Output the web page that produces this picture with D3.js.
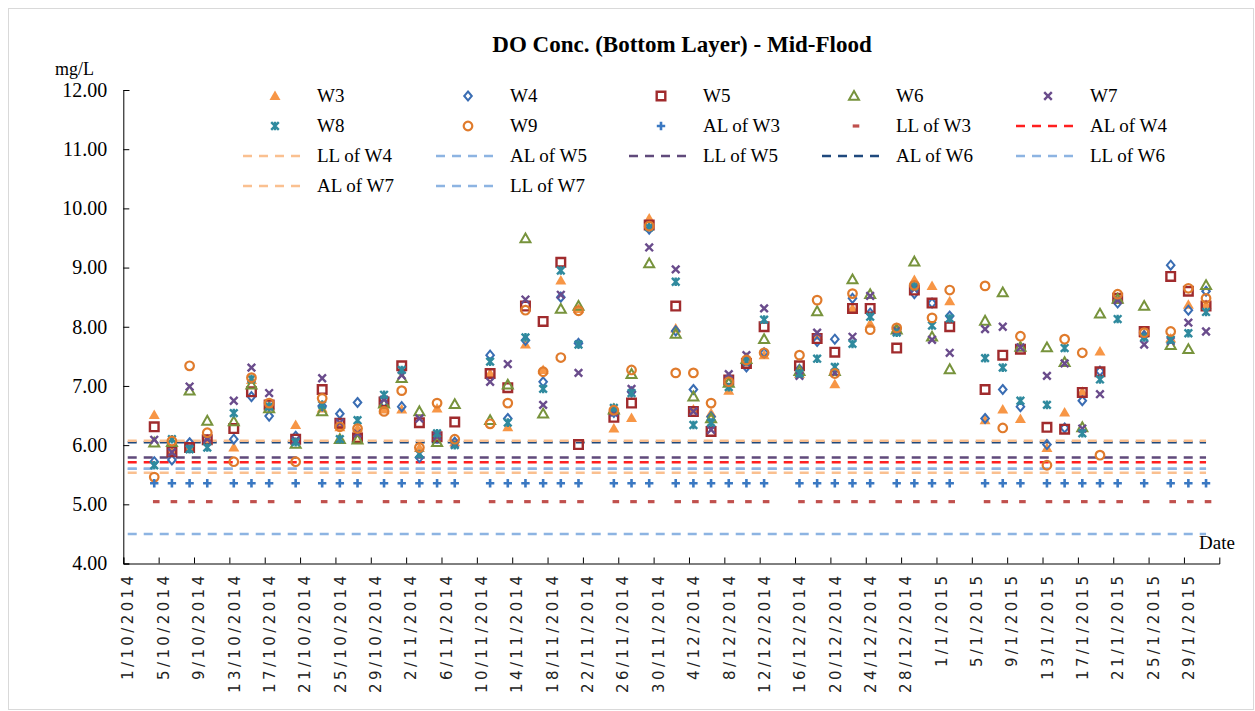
<!DOCTYPE html>
<html><head><meta charset="utf-8">
<script src="https://cdn.jsdelivr.net/npm/d3@7"></script>
<style>
body{margin:0;background:#fff;}
svg{display:block;}
</style></head>
<body>
<svg id="chart" width="1255" height="711"></svg>
<script>
const dates = ["4/10/2014","6/10/2014","8/10/2014","10/10/2014","13/10/2014","15/10/2014","17/10/2014","20/10/2014","23/10/2014","25/10/2014","27/10/2014","30/10/2014","1/11/2014","3/11/2014","5/11/2014","7/11/2014","11/11/2014","13/11/2014","15/11/2014","17/11/2014","19/11/2014","21/11/2014","25/11/2014","27/11/2014","29/11/2014","2/12/2014","4/12/2014","6/12/2014","8/12/2014","10/12/2014","12/12/2014","16/12/2014","18/12/2014","20/12/2014","22/12/2014","24/12/2014","27/12/2014","29/12/2014","31/12/2014","2/1/2015","6/1/2015","8/1/2015","10/1/2015","13/1/2015","15/1/2015","17/1/2015","19/1/2015","21/1/2015","24/1/2015","27/1/2015","29/1/2015","31/1/2015"];

const W3 = [6.51,5.89,5.95,6.10,5.96,7.10,6.68,6.34,6.62,6.30,6.28,6.60,6.60,5.95,6.62,6.05,7.21,6.30,7.70,7.27,8.78,8.30,6.28,6.46,9.83,7.97,6.60,6.54,6.92,7.40,7.52,7.20,7.85,7.03,8.31,8.05,7.98,8.79,8.69,8.43,6.42,6.60,6.44,5.95,6.55,6.90,7.58,8.50,7.88,7.80,8.37,8.37];
const W4 = [5.72,5.75,6.04,6.05,6.10,6.82,6.49,6.15,6.66,6.53,6.72,6.72,6.65,5.79,6.12,6.05,7.52,6.45,7.77,7.07,8.50,7.72,6.55,6.90,9.65,7.93,6.94,6.48,7.05,7.32,7.56,7.28,7.75,7.79,8.48,8.23,7.95,8.56,8.40,8.18,6.45,6.94,6.65,6.01,6.29,6.75,7.25,8.40,7.85,9.04,8.28,8.60];
const W5 = [6.31,5.89,5.96,6.09,6.28,6.90,6.68,6.10,6.94,6.37,6.12,6.73,7.34,6.38,6.14,6.39,7.21,6.97,8.35,8.09,9.09,6.01,6.47,6.71,9.72,8.35,6.57,6.23,7.10,7.38,8.00,7.34,7.80,7.57,8.31,8.31,7.64,8.62,8.40,8.00,6.94,7.52,7.62,6.30,6.27,6.89,7.24,8.48,7.92,8.85,8.60,8.35];
const W6 = [6.04,6.05,6.92,6.41,6.40,7.02,6.62,6.02,6.57,6.10,6.09,6.70,7.13,6.57,6.05,6.69,6.42,7.02,9.49,6.53,8.30,8.35,6.60,7.20,9.07,7.88,6.82,6.45,7.05,7.45,7.79,7.25,8.26,7.25,8.80,8.55,7.95,9.10,7.83,7.28,8.10,8.58,7.66,7.65,7.40,6.30,8.22,8.47,8.35,7.69,7.62,8.70];
const W7 = [6.09,5.88,6.99,6.10,6.75,7.31,6.88,6.08,7.13,6.38,6.20,6.77,7.18,6.45,6.15,6.02,7.07,7.37,8.46,6.68,8.54,7.22,6.55,6.95,9.34,8.97,6.57,6.26,7.20,7.52,8.31,7.17,7.90,7.22,7.83,8.52,7.93,8.65,7.78,7.56,7.96,8.00,7.65,7.17,7.38,6.28,6.86,8.45,7.70,7.76,8.07,7.92];
const W8 = [5.66,6.10,5.93,5.96,6.54,7.12,6.65,6.05,6.68,6.10,6.42,6.85,7.27,5.85,6.20,6.00,7.41,6.38,7.82,6.95,8.95,7.70,6.63,6.88,9.68,8.76,6.34,6.38,6.98,7.42,8.12,7.21,7.46,7.32,7.71,8.17,7.90,8.68,8.02,8.14,7.47,7.31,6.75,6.68,7.64,6.20,7.11,8.13,7.82,7.78,7.89,8.25];
const W9 = [5.46,6.07,7.34,6.21,5.72,7.14,6.71,5.72,6.79,6.31,6.28,6.57,6.92,5.96,6.71,6.10,6.36,6.71,8.28,7.24,7.48,8.27,6.59,7.27,9.70,7.22,7.22,6.71,7.07,7.44,7.56,7.52,8.45,7.21,8.56,7.95,7.98,8.70,8.15,8.62,8.69,6.29,7.84,5.66,7.79,7.56,5.83,8.55,7.90,7.92,8.65,8.48];
const AL_W3 = 5.355;
const LL_W3 = 5.045;

const refNames  = ["AL of W4","LL of W4","AL of W5","LL of W5","AL of W6","LL of W6","AL of W7","LL of W7"];
const refValues = [5.71, 5.535, 5.60, 5.79, 6.05, 5.60, 6.075, 4.50];

const yTicks = [4,5,6,7,8,9,10,11,12];
const axisStart = "1/10/2014", axisEnd = "2/2/2015", lineEnd = "31/1/2015";

const parse = d3.timeParse("%d/%m/%Y");
const fmt = d => `${d.getDate()}/${d.getMonth()+1}/${d.getFullYear()}`;
const mid = d => d3.timeHour.offset(d, 12);

const svg = d3.select("#chart");
const W = 1255, H = 711;
const L = 123.3, R = 1219.3, T = 90, B = 563.5;

// outer border
svg.append("rect").attr("x",8.5).attr("y",8.5).attr("width",W-10).attr("height",H-10)
  .attr("fill","none").attr("stroke","#d9d9d9").attr("stroke-width",1);

const x = d3.scaleTime().domain([parse(axisStart), parse(axisEnd)]).range([L, R]);
const y = d3.scaleLinear().domain([4,12]).range([B, T]);

const serif = "'Liberation Serif','Times New Roman',serif";

// title
svg.append("text").attr("x",682).attr("y",52).attr("text-anchor","middle")
  .attr("font-family",serif).attr("font-weight","bold").attr("font-size",23)
  .text("DO Conc. (Bottom Layer) - Mid-Flood");
svg.append("text").attr("x",55).attr("y",75).attr("font-family",serif).attr("font-size",18).text("mg/L");
svg.append("text").attr("x",1199).attr("y",549).attr("font-family",serif).attr("font-size",19).text("Date");

// reference lines
const refColors = ["#ff1f1f","#fac090","#8db4e2","#604a7b","#1f497d","#8db4e2","#fac090","#8db4e2"];
const lineDates = [parse(axisStart), parse(lineEnd)].map(mid);
const lineGen = d3.line().x(d => x(d[0])).y(d => y(d[1]));
refValues.forEach((v,i) => {
  svg.append("path").attr("d", lineGen(lineDates.map(d => [d, v])))
    .attr("fill","none").attr("stroke",refColors[i]).attr("stroke-width",2.5)
    .attr("stroke-dasharray","9,7");
});

// axes
const yAxis = d3.axisLeft(y).tickValues(yTicks).tickFormat(d3.format(".2f")).tickSize(-6).tickPadding(16);
const gy = svg.append("g").attr("transform",`translate(${L},0)`).call(yAxis);
gy.selectAll("text").attr("font-family",serif).attr("font-size",20).attr("fill","#000");
gy.selectAll("line,path").attr("stroke","#000");

const allDays = d3.timeDay.range(parse(axisStart), parse(axisEnd));
const tickDates = allDays.filter((d,i) => i % 4 === 0);
const xTicks = d3.axisBottom(x).tickValues(tickDates).tickSize(-6).tickFormat("");
const gx = svg.append("g").attr("transform",`translate(0,${B})`).call(xTicks);
gx.selectAll("line,path").attr("stroke","#000");

const xLab = d3.axisBottom(x).tickValues(tickDates.map(mid)).tickSize(0).tickFormat(d => fmt(d3.timeHour.offset(d,-12)));
const gl = svg.append("g").attr("transform",`translate(0,${B})`).call(xLab);
gl.select(".domain").remove();
gl.selectAll("text").attr("font-family","'DejaVu Sans',sans-serif").attr("font-size",15)
  .attr("letter-spacing","3.4px").attr("fill","#222")
  .attr("text-anchor","end").attr("transform","rotate(-90)").attr("dy","0.35em").attr("x",-9).attr("y",0);

// markers
const shapes = {
  triFill: "M0,-5.5L5.5,4L-5.5,4Z",
  diamond: "M0,-4.5L3.8,0L0,4.5L-3.8,0Z",
  square: "M-4.3,-4.3H4.3V4.3H-4.3Z",
  tri: "M0,-5L5,3.8L-5,3.8Z",
  cross: "M-3.8,-3.8L3.8,3.8M3.8,-3.8L-3.8,3.8",
  star: "M-3.8,-3.8L3.8,3.8M3.8,-3.8L-3.8,3.8M0,-4.3V4.3",
  circle: "M4.3,0A4.3,4.3 0 1,1 -4.3,0A4.3,4.3 0 1,1 4.3,0Z",
  plus: "M-4.2,0H4.2M0,-4.2V4.2",
  dash: "M-1.3,0H5.3"
};
const series = [
  {name:"W3", values:W3, shape:"triFill", color:"#f79646", fill:true},
  {name:"W4", values:W4, shape:"diamond", color:"#3a6db3", sw:2},
  {name:"W5", values:W5, shape:"square", color:"#a02b2d", sw:2.4},
  {name:"W6", values:W6, shape:"tri", color:"#77933c", sw:2},
  {name:"W7", values:W7, shape:"cross", color:"#6a4c8c", sw:2.4},
  {name:"W8", values:W8, shape:"star", color:"#2f8a9e", sw:2.4},
  {name:"W9", values:W9, shape:"circle", color:"#e07b2c", sw:2.2},
  {name:"AL of W3", values:dates.map(() => AL_W3), shape:"plus", color:"#3a78c2", sw:2.6},
  {name:"LL of W3", values:dates.map(() => LL_W3), shape:"dash", color:"#c0504d", sw:3.2}
];
const pDates = dates.map(parse).map(mid);
function styleMarker(sel, s){
  sel.attr("d", shapes[s.shape])
    .attr("fill", s.fill ? s.color : "none")
    .attr("stroke", s.fill ? "none" : s.color)
    .attr("stroke-width", s.sw || 0)
    .attr("stroke-linecap","butt");
}
series.forEach(s => {
  const g = svg.append("g");
  g.selectAll("path").data(s.values).join("path")
    .attr("transform",(v,i) => `translate(${x(pDates[i])},${y(v)})`)
    .call(sel => styleMarker(sel, s));
});

// legend
const legendItems = series.map(s => ({name:s.name, type:"marker", s}))
  .concat(refNames.map((n,i) => ({name:n, type:"line", color:refColors[i]})));
const colX = [275, 468, 661, 854, 1048];
const rowY = [96, 126, 156, 186];
legendItems.forEach((it, i) => {
  const cx = colX[i % 5], cy = rowY[Math.floor(i / 5)];
  const g = svg.append("g").attr("transform",`translate(${cx},${cy})`);
  if (it.type === "marker") {
    g.append("path").call(sel => styleMarker(sel, it.s));
  } else {
    g.append("line").attr("x1",-32).attr("x2",32).attr("y1",0).attr("y2",0)
      .attr("stroke",it.color).attr("stroke-width",2.5).attr("stroke-dasharray","9,7");
  }
  g.append("text").attr("x",42).attr("y",6).attr("font-family",serif).attr("font-size",19).text(it.name);
});
</script>
</body></html>
